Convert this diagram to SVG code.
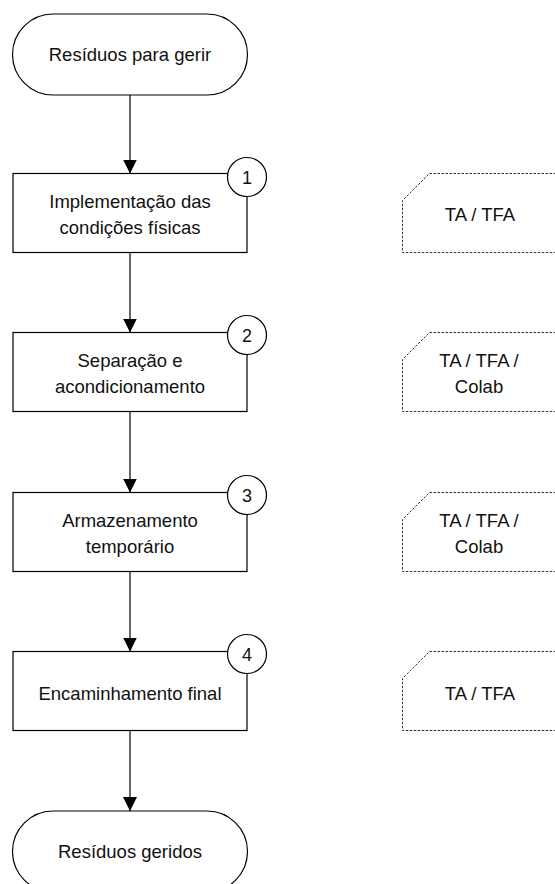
<svg xmlns="http://www.w3.org/2000/svg" width="555" height="884" viewBox="0 0 555 884">
<defs>
<style>
.sh{fill:#fff;stroke:#000;stroke-width:1.2}
.ds{fill:#fff;stroke:#333;stroke-width:1;stroke-dasharray:2.5 1.5}
.t{font-family:"Liberation Sans",Arial,sans-serif;font-size:18.5px;fill:#111;text-anchor:middle}
.n{font-family:"Liberation Sans",Arial,sans-serif;font-size:18px;fill:#111;text-anchor:middle}
.c{stroke:#000;stroke-width:1.2;fill:none}
</style>
<marker id="ah" markerWidth="14" markerHeight="14" viewBox="0 0 14 14" refX="14" refY="7" orient="auto" markerUnits="userSpaceOnUse">
<path d="M0,0 L14,7 L0,14 Z" fill="#000"/>
</marker>
</defs>
<rect width="555" height="884" fill="#fff"/>
<g id="connectors">
<line class="c" x1="130" y1="95" x2="130" y2="173.5" marker-end="url(#ah)"/>
<line class="c" x1="130" y1="252.5" x2="130" y2="332.5" marker-end="url(#ah)"/>
<line class="c" x1="130" y1="411.5" x2="130" y2="492.5" marker-end="url(#ah)"/>
<line class="c" x1="130" y1="571.5" x2="130" y2="651.5" marker-end="url(#ah)"/>
<line class="c" x1="130" y1="730.5" x2="130" y2="811" marker-end="url(#ah)"/>
</g>
<g id="start">
<rect class="sh" x="12.5" y="14" width="235" height="81" rx="40.5" ry="40.5"/>
<text class="t" x="130" y="61">Resíduos para gerir</text>
</g>
<g id="step1">
<rect class="sh" x="13" y="173.5" width="234" height="79"/>
<circle class="sh" cx="247" cy="177" r="19.5"/>
<text class="n" x="247" y="183.5">1</text>
<text class="t" x="130" y="207.5">Implementação das</text>
<text class="t" x="130" y="233.5">condições físicas</text>
</g>
<g id="step2">
<rect class="sh" x="13" y="332.5" width="234" height="79"/>
<circle class="sh" cx="247" cy="335" r="19.5"/>
<text class="n" x="247" y="341.5">2</text>
<text class="t" x="130" y="366.5">Separação e</text>
<text class="t" x="130" y="392.5">acondicionamento</text>
</g>
<g id="step3">
<rect class="sh" x="13" y="492.5" width="234" height="79"/>
<circle class="sh" cx="247" cy="495" r="19.5"/>
<text class="n" x="247" y="501.5">3</text>
<text class="t" x="130" y="526.5">Armazenamento</text>
<text class="t" x="130" y="552.5">temporário</text>
</g>
<g id="step4">
<rect class="sh" x="13" y="651.5" width="234" height="79"/>
<circle class="sh" cx="247" cy="654" r="19.5"/>
<text class="n" x="247" y="660.5">4</text>
<text class="t" x="130" y="699.5">Encaminhamento final</text>
</g>
<g id="end">
<rect class="sh" x="12.5" y="811" width="235" height="81" rx="40.5" ry="40.5"/>
<text class="t" x="130" y="858">Resíduos geridos</text>
</g>
<g id="role1">
<path class="ds" d="M560,173.5 H429.5 L402.5,200.5 V252.5 H560"/>
<text class="t" x="480" y="220.5">TA / TFA</text>
</g>
<g id="role2">
<path class="ds" d="M560,332.5 H429.5 L402.5,359.5 V411.5 H560"/>
<text class="t" x="479" y="366.5">TA / TFA /</text>
<text class="t" x="479" y="392.5">Colab</text>
</g>
<g id="role3">
<path class="ds" d="M560,492.5 H429.5 L402.5,519.5 V571.5 H560"/>
<text class="t" x="479" y="526.5">TA / TFA /</text>
<text class="t" x="479" y="552.5">Colab</text>
</g>
<g id="role4">
<path class="ds" d="M560,651.5 H429.5 L402.5,678.5 V730.5 H560"/>
<text class="t" x="480" y="699.5">TA / TFA</text>
</g>
</svg>
